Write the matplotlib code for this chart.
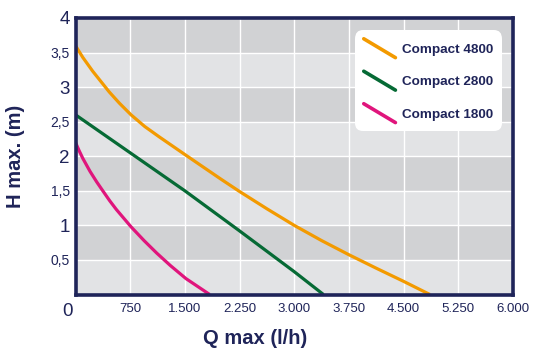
import matplotlib
matplotlib.use("Agg")
import matplotlib.pyplot as plt
from matplotlib.lines import Line2D
from matplotlib.legend_handler import HandlerBase
from matplotlib.transforms import ScaledTranslation

# ---- data ----
q_4800 = [0, 100, 236, 463, 600, 761, 950, 1149, 1500, 1750, 2000, 2250, 2625, 3000, 3375, 3750, 4125, 4500, 4860]
h_4800 = [3.6, 3.43, 3.23, 2.93, 2.77, 2.60, 2.43, 2.28, 2.025, 1.845, 1.665, 1.49, 1.24, 1.0, 0.78, 0.575, 0.38, 0.19, 0.0]

q_2800 = [0, 750, 1500, 2250, 3000, 3400]
h_2800 = [2.6, 2.05, 1.5, 0.92, 0.33, 0.0]

q_1800 = [0, 50, 100, 200, 290, 381, 470, 560, 761, 940, 1113, 1300, 1515, 1840]
h_1800 = [2.2, 2.08, 1.97, 1.78, 1.63, 1.49, 1.355, 1.23, 0.98, 0.78, 0.6, 0.42, 0.23, 0.0]

series_names = ["Compact 4800", "Compact 2800", "Compact 1800"]
series_colors = ["#f39a00", "#066a35", "#e0157c"]

x_ticks = [0, 750, 1500, 2250, 3000, 3750, 4500, 5250, 6000]
x_labels = ["0", "750", "1.500", "2.250", "3.000", "3.750", "4.500", "5.250", "6.000"]
y_ticks = [0.5, 1, 1.5, 2, 2.5, 3, 3.5, 4]
y_labels = ["0,5", "1", "1,5", "2", "2,5", "3", "3,5", "4"]

x_title = "Q max (l/h)"
y_title = "H max. (m)"

NAVY = "#1f2459"
FONT = ["Liberation Sans", "DejaVu Sans"]
plt.rcParams["font.family"] = FONT

fig = plt.figure(figsize=(5.47, 3.51), dpi=100)
ax = fig.add_axes([75.5 / 547, 56.5 / 351, 437.5 / 547, 276.5 / 351])
ax.set_xlim(0, 6000)
ax.set_ylim(0, 4)

# alternating bands
for i in range(8):
    y0 = i * 0.5
    col = "#e2e3e5" if i % 2 == 0 else "#d1d2d4"
    ax.axhspan(y0, y0 + 0.5, color=col, zorder=0, lw=0)
for x in x_ticks[1:-1]:
    ax.axvline(x, color="white", lw=1.0, zorder=1)
for y in y_ticks[:-1]:
    ax.axhline(y, color="white", lw=1.0, zorder=1)

lines = []
for q, h, c, n in zip([q_4800, q_2800, q_1800], [h_4800, h_2800, h_1800], series_colors, series_names):
    ln, = ax.plot(q, h, color=c, lw=2.3, label=n, zorder=3, solid_capstyle="butt",
                  solid_joinstyle="round")
    lines.append(ln)

for s in ax.spines.values():
    s.set_color(NAVY)
    s.set_linewidth(2.6)
    s.set_zorder(5)

ax.set_xticks(x_ticks)
ax.set_xticklabels(x_labels)
ax.set_yticks(y_ticks)
ax.set_yticklabels(y_labels)
ax.tick_params(length=0, colors=NAVY)
ax.tick_params(axis="x", pad=6, labelsize=9.5)
ax.tick_params(axis="y", pad=4)

for lab, t in zip(ax.get_yticklabels(), y_labels):
    lab.set_fontsize(13.5 if "," not in t else 10)
xl = ax.get_xticklabels()
xl[0].set_fontsize(13.5)
xl[0].set_transform(xl[0].get_transform() + ScaledTranslation(-8 / 100, 0, fig.dpi_scale_trans))

ax.set_xlabel(x_title, fontsize=14.5, fontweight="bold", color=NAVY)
ax.xaxis.set_label_coords(0.411, -0.125)
ax.set_ylabel(y_title, fontsize=14.5, fontweight="bold", color=NAVY)
ax.yaxis.set_label_coords(-0.115, 0.5)


class DiagHandler(HandlerBase):
    def create_artists(self, legend, orig_handle, xdescent, ydescent, width, height, fontsize, trans):
        cy = -ydescent + height / 2
        ln = Line2D([-xdescent, -xdescent + width], [cy + 6.8, cy - 6.8],
                    color=orig_handle.get_color(), lw=2.6, solid_capstyle="round", transform=trans)
        return [ln]


leg = ax.legend(handles=lines, labels=series_names, loc="upper right",
                bbox_to_anchor=(0.974, 0.9548), borderaxespad=0,
                handler_map={Line2D: DiagHandler()},
                prop={"family": FONT, "weight": "bold", "size": 9.7},
                handlelength=2.35, handleheight=1.7, handletextpad=0.47, labelspacing=1.06,
                borderpad=0.64, frameon=True, framealpha=1, fancybox=True)
leg.get_frame().set_facecolor("white")
leg.get_frame().set_edgecolor("none")
leg.get_frame().set_boxstyle("round,pad=0,rounding_size=0.6")
leg.set_zorder(6)
for t in leg.get_texts():
    t.set_color(NAVY)

fig.savefig("out.png", dpi=100)
